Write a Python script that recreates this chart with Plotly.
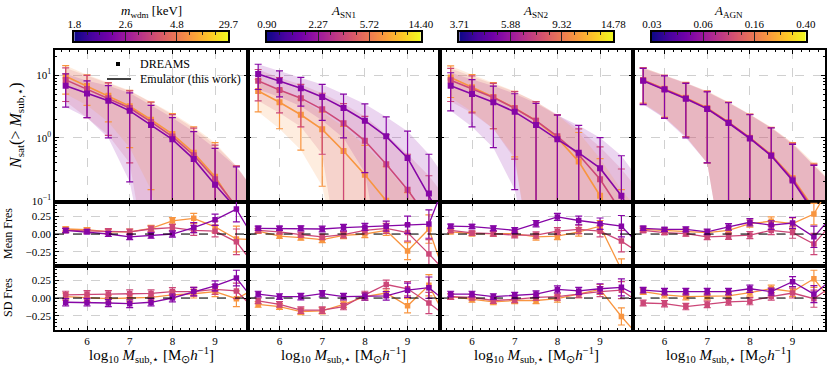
import plotly.graph_objects as go
from plotly.subplots import make_subplots

x_mass = [5.5, 6.0, 6.5, 7.0, 7.5, 8.0, 8.5, 9.0, 9.5]
x_emu = [5.5, 6.0, 6.5, 7.0, 7.5, 8.0, 8.5, 9.0, 9.5, 10.0]

# low / mid / high parameter value, taken from the plasma map
colors = ["#8606a6", "#cc4778", "#f89540"]
fills = ["rgba(134,6,166,0.17)", "rgba(204,71,120,0.17)", "rgba(248,149,64,0.17)"]

param_titles = ["<i>m</i><sub>wdm</sub> [keV]", "<i>A</i><sub>SN1</sub>",
                "<i>A</i><sub>SN2</sub>", "<i>A</i><sub>AGN</sub>"]
param_ticks = [["1.8", "2.6", "4.8", "29.7"],
               ["0.90", "2.27", "5.72", "14.40"],
               ["3.71", "5.88", "9.32", "14.78"],
               ["0.03", "0.06", "0.16", "0.40"]]

# ---------------- N_sat(>M) : emulator curve (last point off the plot) and 1 sigma
nsat_wdm_lo = [6.8, 5.1, 3.9, 2.7, 1.6, 0.95, 0.46, 0.18, 0.075, 0.02]
nsat_wdm_mid = [8.4, 6.0, 4.3, 3.0, 1.8, 1.05, 0.53, 0.22, 0.08, 0.02]
nsat_wdm_hi = [9.6, 6.7, 4.7, 3.2, 1.95, 1.15, 0.58, 0.24, 0.075, 0.02]
err_wdm_lo = [3.7, 3.0, 2.9, 2.5, 1.7, 1.15, 0.8, 0.5, 0.27, 0.1]
err_wdm_mid = [4.6, 3.9, 3.2, 2.6, 1.9, 1.3, 0.9, 0.55, 0.28, 0.1]
err_wdm_hi = [4.6, 3.4, 2.9, 2.5, 1.8, 1.3, 0.92, 0.6, 0.28, 0.1]

nsat_sn1_lo = [10.4, 8.1, 6.2, 4.5, 3.0, 1.88, 1.06, 0.48, 0.13, 0.03]
nsat_sn1_mid = [8.1, 5.8, 4.3, 2.85, 1.71, 0.9, 0.38, 0.15, 0.05, 0.01]
nsat_sn1_hi = [5.6, 3.7, 2.34, 1.37, 0.62, 0.26, 0.1, 0.035, 0.012, 0.004]
err_sn1_lo = [4.5, 3.6, 3.0, 2.6, 2.0, 1.6, 1.1, 0.8, 0.42, 0.15]
err_sn1_mid = [4.2, 3.3, 2.8, 2.3, 1.8, 1.3, 0.75, 0.4, 0.2, 0.08]
err_sn1_hi = [3.0, 2.3, 1.7, 1.2, 0.9, 0.5, 0.25, 0.1, 0.05, 0.02]

nsat_sn2_lo = [6.8, 5.0, 3.7, 2.6, 1.6, 0.95, 0.58, 0.33, 0.12, 0.03]
nsat_sn2_mid = [8.3, 6.1, 4.4, 2.96, 1.88, 1.06, 0.54, 0.22, 0.07, 0.02]
nsat_sn2_hi = [9.2, 6.4, 4.5, 3.0, 1.88, 1.0, 0.42, 0.12, 0.03, 0.008]
err_sn2_lo = [4.1, 3.5, 3.0, 2.45, 1.95, 1.35, 1.0, 0.68, 0.4, 0.15]
err_sn2_mid = [4.5, 3.6, 3.0, 2.5, 1.9, 1.3, 0.85, 0.5, 0.25, 0.1]
err_sn2_hi = [4.8, 3.8, 3.1, 2.5, 1.9, 1.3, 0.8, 0.35, 0.12, 0.05]

nsat_agn_lo = [8.1, 5.9, 4.2, 2.9, 1.73, 0.98, 0.52, 0.21, 0.065, 0.015]
nsat_agn_mid = [8.3, 6.0, 4.3, 2.95, 1.76, 1.0, 0.53, 0.22, 0.07, 0.016]
nsat_agn_hi = [8.4, 6.05, 4.35, 3.0, 1.78, 1.01, 0.54, 0.23, 0.075, 0.018]
err_agn_lo = [4.7, 3.85, 3.2, 2.5, 1.9, 1.36, 0.92, 0.58, 0.3, 0.15]
err_agn_mid = [4.8, 3.9, 3.25, 2.55, 1.92, 1.37, 0.93, 0.6, 0.31, 0.15]
err_agn_hi = [4.8, 3.9, 3.3, 2.6, 1.95, 1.38, 0.94, 0.61, 0.32, 0.15]

# ---------------- fractional residuals of the mean and of the scatter
mean_wdm_lo = [0.05, 0.03, 0.0, -0.04, -0.02, 0.0, 0.09, 0.2, 0.35, -0.15]
mean_wdm_mid = [0.05, 0.04, 0.04, 0.03, 0.07, 0.09, 0.05, 0.04, -0.11, -0.5]
mean_wdm_hi = [0.07, 0.06, 0.03, 0.03, 0.08, 0.185, 0.22, 0.1, -0.07, -0.08]
sd_wdm_lo = [-0.06, -0.06, -0.07, -0.08, -0.06, 0.0, 0.09, 0.17, 0.28, -0.1]
sd_wdm_mid = [0.045, 0.055, 0.055, 0.06, 0.065, 0.09, 0.09, 0.12, 0.1, -0.2]
sd_wdm_hi = [0.02, 0.0, -0.01, 0.0, 0.01, 0.045, 0.06, 0.09, -0.01, 0.15]
mean_err_wdm = [0.03, 0.03, 0.035, 0.04, 0.04, 0.045, 0.07, 0.08, 0.18]
sd_err_wdm = [0.05, 0.05, 0.05, 0.055, 0.05, 0.055, 0.06, 0.07, 0.11]

mean_sn1_lo = [0.08, 0.08, 0.08, 0.07, 0.09, 0.1, 0.11, 0.13, 0.14, 0.9]
mean_sn1_mid = [0.05, 0.03, -0.01, -0.04, -0.01, 0.05, 0.08, 0.02, -0.28, -0.6]
mean_sn1_hi = [0.04, -0.03, -0.05, -0.08, -0.02, 0.0, 0.05, -0.24, 0.07, -0.8]
sd_sn1_lo = [0.055, 0.02, 0.02, 0.06, 0.02, 0.02, 0.03, 0.11, 0.145, -0.1]
sd_sn1_mid = [-0.04, -0.09, -0.17, -0.17, -0.12, 0.045, 0.19, 0.13, -0.07, -0.3]
sd_sn1_hi = [-0.09, -0.12, -0.19, -0.18, -0.09, 0.02, 0.07, -0.11, 0.18, -0.4]
mean_err_sn1 = [0.03, 0.03, 0.035, 0.04, 0.045, 0.05, 0.07, 0.12, 0.2]
sd_err_sn1 = [0.04, 0.04, 0.045, 0.045, 0.045, 0.05, 0.06, 0.1, 0.15]

mean_sn2_lo = [0.11, 0.105, 0.08, 0.05, 0.145, 0.24, 0.19, 0.145, 0.11, -0.2]
mean_sn2_mid = [0.05, 0.015, 0.005, -0.015, -0.015, 0.04, 0.065, 0.04, -0.1, -0.3]
mean_sn2_hi = [0.03, 0.005, 0.005, 0.005, -0.04, -0.03, 0.03, 0.11, -0.5, -0.9]
sd_sn2_lo = [0.055, 0.055, 0.02, 0.035, 0.055, 0.12, 0.1, 0.13, 0.15, 0.0]
sd_sn2_mid = [0.02, 0.01, -0.035, -0.02, 0.01, 0.02, 0.055, 0.09, 0.11, -0.1]
sd_sn2_hi = [0.02, -0.02, -0.055, -0.035, -0.035, -0.01, 0.055, 0.12, -0.26, -0.6]
mean_err_sn2 = [0.03, 0.03, 0.035, 0.04, 0.045, 0.05, 0.06, 0.08, 0.15]
sd_err_sn2 = [0.04, 0.04, 0.04, 0.045, 0.045, 0.05, 0.05, 0.07, 0.12]

mean_agn_lo = [0.08, 0.065, 0.065, 0.03, 0.1, 0.165, 0.125, 0.155, -0.04, 0.3]
mean_agn_mid = [0.05, 0.02, 0.005, -0.04, -0.03, -0.015, 0.05, 0.02, -0.14, 0.2]
mean_agn_hi = [0.065, 0.05, 0.04, 0.02, 0.05, 0.145, 0.18, 0.145, 0.28, 0.8]
sd_agn_lo = [0.11, 0.09, 0.09, 0.09, 0.09, 0.13, 0.09, 0.23, 0.055, 0.3]
sd_agn_mid = [-0.07, -0.08, -0.12, -0.09, -0.055, -0.045, 0.02, 0.07, -0.01, 0.2]
sd_agn_hi = [0.09, 0.045, 0.02, 0.02, 0.03, 0.075, 0.13, 0.09, 0.27, -0.1]
mean_err_agn = [0.03, 0.03, 0.035, 0.04, 0.045, 0.05, 0.06, 0.08, 0.15]
sd_err_agn = [0.04, 0.045, 0.045, 0.045, 0.045, 0.05, 0.05, 0.07, 0.12]

columns = [
    dict(nsat=[nsat_wdm_lo, nsat_wdm_mid, nsat_wdm_hi], err=[err_wdm_lo, err_wdm_mid, err_wdm_hi],
         mean=[mean_wdm_lo, mean_wdm_mid, mean_wdm_hi], sd=[sd_wdm_lo, sd_wdm_mid, sd_wdm_hi],
         mean_err=mean_err_wdm, sd_err=sd_err_wdm),
    dict(nsat=[nsat_sn1_lo, nsat_sn1_mid, nsat_sn1_hi], err=[err_sn1_lo, err_sn1_mid, err_sn1_hi],
         mean=[mean_sn1_lo, mean_sn1_mid, mean_sn1_hi], sd=[sd_sn1_lo, sd_sn1_mid, sd_sn1_hi],
         mean_err=mean_err_sn1, sd_err=sd_err_sn1),
    dict(nsat=[nsat_sn2_lo, nsat_sn2_mid, nsat_sn2_hi], err=[err_sn2_lo, err_sn2_mid, err_sn2_hi],
         mean=[mean_sn2_lo, mean_sn2_mid, mean_sn2_hi], sd=[sd_sn2_lo, sd_sn2_mid, sd_sn2_hi],
         mean_err=mean_err_sn2, sd_err=sd_err_sn2),
    dict(nsat=[nsat_agn_lo, nsat_agn_mid, nsat_agn_hi], err=[err_agn_lo, err_agn_mid, err_agn_hi],
         mean=[mean_agn_lo, mean_agn_mid, mean_agn_hi], sd=[sd_agn_lo, sd_agn_mid, sd_agn_hi],
         mean_err=mean_err_agn, sd_err=sd_err_agn),
]

FONT = "Liberation Serif"
W, H = 830, 371
ML, MR, MT, MB = 55, 5, 20, 41
PW, PH = W - ML - MR, H - MT - MB


# positions below are given in window pixels
def px(xp):
    return (xp - ML) / PW


def py(yp):
    return (MT + PH - yp) / PH


fig = make_subplots(rows=3, cols=4, horizontal_spacing=0, vertical_spacing=0,
                    row_heights=[152, 64, 64])

for c, col in enumerate(columns, start=1):
    # bands first
    for k in range(3):
        ns, er = col["nsat"][k], col["err"][k]
        lo = [max(v - e, 0.004) for v, e in zip(ns, er)]
        hi = [v + e for v, e in zip(ns, er)]
        fig.add_trace(go.Scatter(x=x_emu, y=lo, mode="lines", line=dict(width=0),
                                 showlegend=False, hoverinfo="skip"), row=1, col=c)
        fig.add_trace(go.Scatter(x=x_emu, y=hi, mode="lines", line=dict(width=0),
                                 fill="tonexty", fillcolor=fills[k],
                                 showlegend=False, hoverinfo="skip"), row=1, col=c)
    for k in [2, 1, 0]:
        ns, er = col["nsat"][k], col["err"][k]
        fig.add_trace(go.Scatter(x=x_emu, y=ns, mode="lines",
                                 line=dict(color=colors[k], width=1.6), showlegend=False), row=1, col=c)
        fig.add_trace(go.Scatter(x=x_mass, y=ns[:9], mode="markers",
                                 marker=dict(symbol="square", size=6, color=colors[k]),
                                 error_y=dict(type="data", array=er[:9], color=colors[k],
                                              thickness=1.2, width=3.5),
                                 showlegend=False), row=1, col=c)
        for r, key, ekey in [(2, "mean", "mean_err"), (3, "sd", "sd_err")]:
            vals = col[key][k]
            fig.add_trace(go.Scatter(x=x_emu, y=vals, mode="lines",
                                     line=dict(color=colors[k], width=1.3), showlegend=False), row=r, col=c)
            fig.add_trace(go.Scatter(x=x_mass, y=vals[:9], mode="markers",
                                     marker=dict(symbol="square", size=5.5, color=colors[k]),
                                     error_y=dict(type="data", array=col[ekey], color=colors[k],
                                                  thickness=1.2, width=3.5),
                                     showlegend=False), row=r, col=c)
    for r in [2, 3]:
        fig.add_hline(y=0, line=dict(color="black", dash="dash", width=1.2), row=r, col=c)

axis_style = dict(showline=True, mirror="allticks", linecolor="black", linewidth=1.5,
                  ticks="inside", ticklen=4, tickwidth=1, tickcolor="black", automargin=False,
                  showgrid=True, gridcolor="#d0d0d0", griddash="dash", gridwidth=0.8,
                  zeroline=False, tickfont=dict(size=11, family=FONT, color="black"))

fig.update_xaxes(**axis_style)
fig.update_yaxes(**axis_style)
fig.update_xaxes(range=[5.25, 9.76], tickvals=[6, 7, 8, 9], showticklabels=False,
                 minor=dict(ticks="inside", ticklen=2, dtick=0.2, tick0=6, tickcolor="black", showgrid=False))
fig.update_xaxes(showticklabels=True, row=3)

fig.update_yaxes(type="log", range=[-1.02, 1.4], tickvals=[0.1, 1, 10],
                 ticktext=["10<sup>\u22121</sup>", "10<sup>0</sup>", "10<sup>1</sup>"],
                 minor=dict(ticks="inside", ticklen=2, tickcolor="black", showgrid=False,
                            tickvals=[0.2, 0.3, 0.4, 0.5, 0.6, 0.7, 0.8, 0.9,
                                      2, 3, 4, 5, 6, 7, 8, 9, 20]),
                 domain=[py(202), py(50)], row=1)
fig.update_yaxes(range=[-0.45, 0.45], tickvals=[-0.25, 0, 0.25],
                 ticktext=["\u22120.25", "0.00", "0.25"],
                 minor=dict(ticks="inside", ticklen=2, dtick=0.05, tick0=0, tickcolor="black", showgrid=False),
                 row=2)
fig.update_yaxes(range=[-0.45, 0.45], tickvals=[-0.25, 0, 0.25],
                 ticktext=["\u22120.25", "0.00", "0.25"],
                 minor=dict(ticks="inside", ticklen=2, dtick=0.05, tick0=0, tickcolor="black", showgrid=False),
                 row=3)
fig.update_yaxes(domain=[py(266), py(202)], row=2)
fig.update_yaxes(domain=[0, py(266)], row=3)
for c in [2, 3, 4]:
    fig.update_yaxes(showticklabels=False, col=c)

# colour bars drawn as thin heatmaps in their own axes above each column
grad_n = 256
grad_z = [list(range(grad_n))]
grad_x = [(i + 0.5) / grad_n for i in range(grad_n)]
annotations = []
txt = dict(xref="paper", yref="paper", showarrow=False, xanchor="center", yanchor="middle")
for c in range(4):
    n = 13 + c
    x0 = c * 0.25 + 0.025
    fig.add_trace(go.Heatmap(z=grad_z, x=grad_x, y=[0], colorscale="Plasma", showscale=False,
                             hoverinfo="skip", xaxis=f"x{n}", yaxis=f"y{n}"))
    fig.update_layout(**{
        f"xaxis{n}": dict(domain=[x0, x0 + 0.2], anchor=f"y{n}", range=[0, 1], side="top",
                          tickvals=[0, 1 / 3, 2 / 3, 1], ticktext=param_ticks[c], automargin=False,
                          ticks="inside", ticklen=9, tickwidth=1, tickcolor="#222",
                          ticklabelstandoff=-2,
                          minor=dict(ticks="inside", ticklen=3, dtick=1 / 12, tick0=0, tickcolor="#222"),
                          showline=True, mirror=True, linecolor="black", linewidth=1.5,
                          showgrid=False, zeroline=False, fixedrange=True,
                          tickfont=dict(size=11, family=FONT, color="black")),
        f"yaxis{n}": dict(domain=[py(41), py(32)], anchor=f"x{n}", range=[-0.5, 0.5], automargin=False,
                          showline=True, mirror=True, linecolor="black", linewidth=1.5,
                          showticklabels=False, ticks="", showgrid=False, zeroline=False,
                          fixedrange=True),
    })
    annotations.append(dict(text=param_titles[c], x=c * 0.25 + 0.125, y=py(12),
                            font=dict(size=13, family=FONT, color="black"), **txt))
    annotations.append(dict(text="log<sub>10</sub> <i>M</i><sub>sub,\u22c6</sub> [M<sub>\u2299</sub><i>h</i><sup>\u22121</sup>]",
                            x=c * 0.25 + 0.125, y=py(355),
                            font=dict(size=15, family=FONT, color="black"), **txt))

annotations.append(dict(text="<i>N</i><sub>sat</sub>(&gt; <i>M</i><sub>sub,\u22c6</sub>)",
                        x=px(16), y=py(126), textangle=-90,
                        font=dict(size=16, family=FONT, color="black"), **txt))
annotations.append(dict(text="Mean Fres", x=px(8), y=py(234), textangle=-90,
                        font=dict(size=12, family=FONT, color="black"), **txt))
annotations.append(dict(text="SD Fres", x=px(8), y=py(298), textangle=-90,
                        font=dict(size=12, family=FONT, color="black"), **txt))

# legend, drawn by hand: marker / line sample then label
shapes = [
    dict(type="rect", xref="paper", yref="paper", x0=px(116), x1=px(120), y0=py(66), y1=py(62),
         fillcolor="black", line=dict(width=0)),
    dict(type="line", xref="paper", yref="paper", x0=px(107), x1=px(131), y0=py(79), y1=py(79),
         line=dict(color="black", width=1.5)),
]
annotations.append(dict(text="DREAMS", x=px(138), y=py(64), xref="paper", yref="paper",
                        showarrow=False, xanchor="left", yanchor="middle",
                        font=dict(size=12, family=FONT, color="black")))
annotations.append(dict(text="Emulator (this work)", x=px(138), y=py(79), xref="paper", yref="paper",
                        showarrow=False, xanchor="left", yanchor="middle",
                        font=dict(size=12, family=FONT, color="black")))

fig.update_layout(
    template="none",
    width=W, height=H,
    margin=dict(l=ML, r=MR, t=MT, b=MB, autoexpand=False),
    plot_bgcolor="white", paper_bgcolor="white",
    font=dict(family=FONT, color="black"),
    annotations=annotations,
    shapes=list(fig.layout.shapes) + shapes,
    showlegend=False,
)

# drop the default 8px page margin so the figure sits in the window corner
fig.write_html("out.html", config={"displayModeBar": False},
               post_script="document.body.style.margin = '0px';")
